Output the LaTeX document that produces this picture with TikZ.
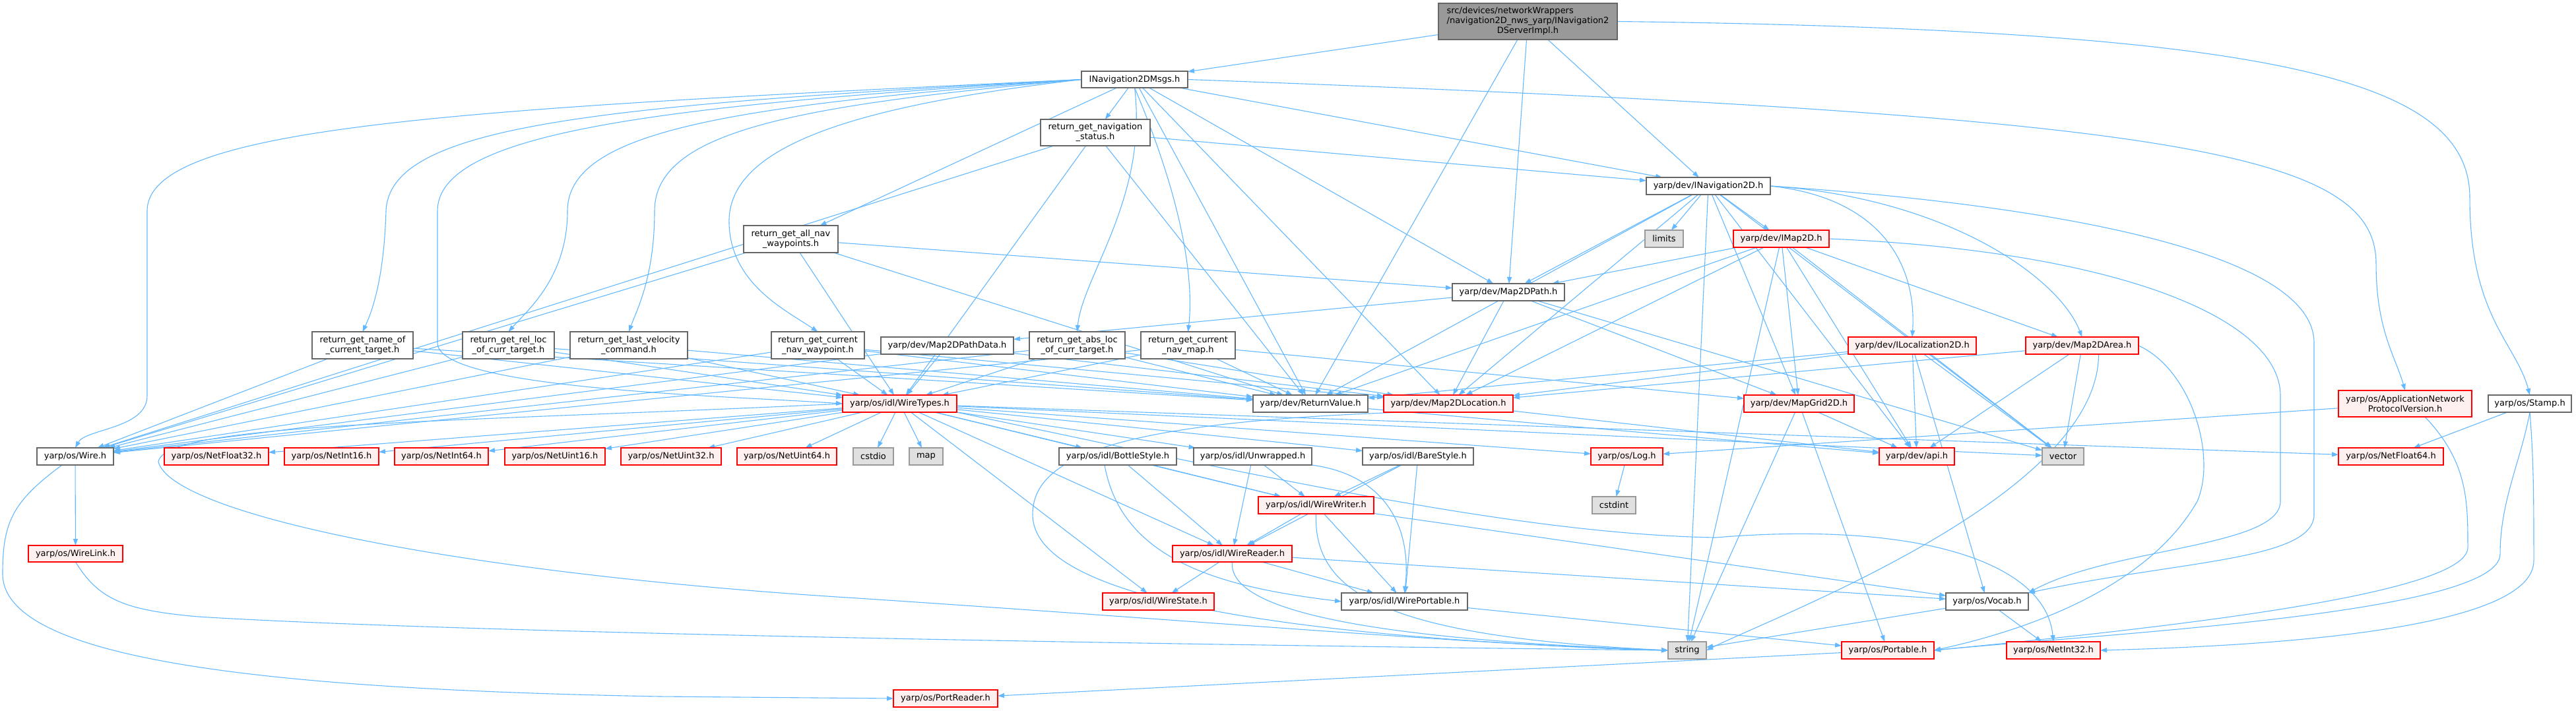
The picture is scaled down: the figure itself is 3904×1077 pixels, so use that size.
\documentclass[tikz,border=0pt]{standalone}
\usepackage{fontspec}
\setmainfont{DejaVu Sans}
\usetikzlibrary{arrows.meta}
\definecolor{edgec}{HTML}{63B8FF}
\definecolor{redfill}{HTML}{FFF0F0}
\definecolor{grayfill}{HTML}{E0E0E0}
\definecolor{topfill}{HTML}{999999}
\definecolor{dborder}{HTML}{666666}
\definecolor{lborder}{HTML}{999999}
\pgfdeclarelayer{bg}
\pgfsetlayers{bg,main}
\newcommand{\mkbox}[7]{\node[#1, minimum width={(#5-#3)*1pt}, minimum height={(#6-#4)*1pt}] (#2) at ({(#3+#5)/2},{(#4+#6)/2}) {#7};}
\tikzset{
  basebox/.style={draw, line width=1.2pt, inner sep=0pt, outer sep=0pt, font=\fontsize{13}{15}\selectfont, align=center},
  wn/.style={basebox, fill=white, draw=dborder},
  rn/.style={basebox, fill=redfill, draw=red},
  gn/.style={basebox, fill=grayfill, draw=lborder},
  tn/.style={basebox, fill=topfill, draw=dborder},
  ed/.style={draw=edgec, line width=1.1pt, -{Triangle[length=10pt,width=7pt]}}
}
\begin{document}
\begin{tikzpicture}[x=1pt,y=-1pt]
\useasboundingbox (0,0) rectangle (3904,1077);
% nodes
\mkbox{tn}{top}{2180}{5}{2451}{60}{\begin{tabular}{@{}l@{}}src/devices/networkWrappers\\/navigation2D\_nws\_yarp/INavigation2\\\multicolumn{1}{@{}c@{}}{DServerImpl.h}\end{tabular}}
\mkbox{wn}{msgs}{1639}{108}{1800}{133}{INavigation2DMsgs.h}
\mkbox{wn}{status}{1577}{181}{1743}{221}{return\_get\_navigation\\\_status.h}
\mkbox{wn}{nav}{2495}{269}{2683}{295}{yarp/dev/INavigation2D.h}
\mkbox{wn}{allwp}{1127}{342}{1270}{383}{return\_get\_all\_nav\\\_waypoints.h}
\mkbox{gn}{limits}{2493}{349}{2551}{375}{limits}
\mkbox{rn}{imap}{2627}{349}{2772}{375}{yarp/dev/IMap2D.h}
\mkbox{wn}{m2dpath}{2201}{430}{2371}{456}{yarp/dev/Map2DPath.h}
\mkbox{wn}{name}{473}{503}{626}{544}{return\_get\_name\_of\\\_current\_target.h}
\mkbox{wn}{rel}{701}{503}{840}{544}{return\_get\_rel\_loc\\\_of\_curr\_target.h}
\mkbox{wn}{lastvel}{864}{503}{1042}{544}{return\_get\_last\_velocity\\\_command.h}
\mkbox{wn}{curwp}{1169}{503}{1310}{544}{return\_get\_current\\\_nav\_waypoint.h}
\mkbox{wn}{pathdata}{1335}{511}{1536}{537}{yarp/dev/Map2DPathData.h}
\mkbox{wn}{absloc}{1560}{503}{1705}{544}{return\_get\_abs\_loc\\\_of\_curr\_target.h}
\mkbox{wn}{navmap}{1729}{503}{1872}{544}{return\_get\_current\\\_nav\_map.h}
\mkbox{rn}{iloc}{2801}{511}{2995}{537}{yarp/dev/ILocalization2D.h}
\mkbox{rn}{area}{3070}{511}{3241}{537}{yarp/dev/Map2DArea.h}
\mkbox{rn}{wiretypes}{1277}{599}{1450}{625}{yarp/os/idl/WireTypes.h}
\mkbox{wn}{rv}{1899}{599}{2073}{625}{yarp/dev/ReturnValue.h}
\mkbox{rn}{loc}{2097}{599}{2293}{625}{yarp/dev/Map2DLocation.h}
\mkbox{rn}{grid}{2643}{599}{2810}{625}{yarp/dev/MapGrid2D.h}
\mkbox{rn}{appnet}{3544}{592}{3746}{632}{yarp/os/ApplicationNetwork\\ProtocolVersion.h}
\mkbox{wn}{stamp}{3771}{599}{3897}{625}{yarp/os/Stamp.h}
\mkbox{wn}{wire}{56}{679}{172}{705}{yarp/os/Wire.h}
\mkbox{rn}{f32}{249}{679}{407}{705}{yarp/os/NetFloat32.h}
\mkbox{rn}{i16}{431}{679}{574}{705}{yarp/os/NetInt16.h}
\mkbox{rn}{i64}{598}{679}{740}{705}{yarp/os/NetInt64.h}
\mkbox{rn}{u16}{765}{679}{917}{705}{yarp/os/NetUint16.h}
\mkbox{rn}{u32}{941}{679}{1093}{705}{yarp/os/NetUint32.h}
\mkbox{rn}{u64}{1117}{679}{1268}{705}{yarp/os/NetUint64.h}
\mkbox{gn}{cstdio}{1293}{679}{1354}{705}{cstdio}
\mkbox{gn}{map}{1378}{679}{1429}{705}{map}
\mkbox{wn}{bottle}{1605}{679}{1783}{705}{yarp/os/idl/BottleStyle.h}
\mkbox{wn}{unwrapped}{1809}{679}{1988}{705}{yarp/os/idl/Unwrapped.h}
\mkbox{wn}{bare}{2065}{679}{2233}{705}{yarp/os/idl/BareStyle.h}
\mkbox{rn}{log}{2411}{679}{2520}{705}{yarp/os/Log.h}
\mkbox{rn}{api}{2848}{679}{2962}{705}{yarp/dev/api.h}
\mkbox{gn}{vector}{3095}{679}{3158}{705}{vector}
\mkbox{rn}{f64}{3544}{679}{3703}{705}{yarp/os/NetFloat64.h}
\mkbox{rn}{writer}{1907}{753}{2082}{779}{yarp/os/idl/WireWriter.h}
\mkbox{gn}{cstdint}{2413}{753}{2479}{779}{cstdint}
\mkbox{rn}{reader}{1777}{827}{1958}{852}{yarp/os/idl/WireReader.h}
\mkbox{rn}{wirelink}{43}{827}{186}{852}{yarp/os/WireLink.h}
\mkbox{rn}{state}{1671}{899}{1840}{925}{yarp/os/idl/WireState.h}
\mkbox{wn}{wportable}{2033}{899}{2224}{925}{yarp/os/idl/WirePortable.h}
\mkbox{wn}{vocab}{2949}{899}{3074}{925}{yarp/os/Vocab.h}
\mkbox{gn}{string}{2528}{973}{2586}{999}{string}
\mkbox{rn}{portable}{2791}{973}{2931}{999}{yarp/os/Portable.h}
\mkbox{rn}{i32}{3041}{973}{3183}{999}{yarp/os/NetInt32.h}
\mkbox{rn}{portreader}{1354}{1046}{1512}{1072}{yarp/os/PortReader.h}
% edges
\begin{pgfonlayer}{bg}
\foreach \src/\dst in {top/msgs, top/nav, top/m2dpath, top/rv,
  msgs/status, msgs/nav, msgs/m2dpath, msgs/rv, msgs/loc, msgs/allwp,
  status/nav, status/wire, status/wiretypes, status/rv,
  allwp/m2dpath, allwp/wire, allwp/wiretypes, allwp/rv,
  name/wire, name/wiretypes, name/rv,
  rel/wire, rel/wiretypes, rel/rv,
  lastvel/wire, lastvel/wiretypes, lastvel/rv,
  curwp/wire, curwp/wiretypes, curwp/rv, curwp/loc,
  absloc/wire, absloc/wiretypes, absloc/rv, absloc/loc,
  navmap/wire, navmap/wiretypes, navmap/rv, navmap/grid,
  pathdata/wire, pathdata/wiretypes, pathdata/loc,
  m2dpath/pathdata, m2dpath/loc, m2dpath/grid, m2dpath/vector,
  nav/limits, nav/imap, nav/m2dpath, nav/rv, nav/loc, nav/string, nav/grid, nav/api, nav/vector,
  imap/m2dpath, imap/rv, imap/loc, imap/grid, imap/area, imap/api, imap/vector, imap/string,
  iloc/loc, iloc/rv, iloc/api, iloc/vector, iloc/vocab,
  area/loc, area/api, area/vector,
  grid/api, grid/string, grid/portable,
  loc/api, rv/api,
  wiretypes/f32, wiretypes/i16, wiretypes/i64, wiretypes/u16, wiretypes/u32, wiretypes/u64,
  wiretypes/cstdio, wiretypes/map, wiretypes/bottle, wiretypes/unwrapped, wiretypes/bare,
  wiretypes/log, wiretypes/reader, wiretypes/writer, wiretypes/state, wiretypes/vector, wiretypes/f64,
  wire/wirelink,
  bottle/writer, bottle/reader, unwrapped/writer, unwrapped/reader, bare/writer, bare/reader, bare/wportable,
  writer/reader, writer/wportable, writer/vocab,
  reader/state, reader/wportable, reader/vocab,
  wportable/portable, log/cstdint, vocab/string, vocab/i32, appnet/log, stamp/f64, portable/portreader}
  \draw[ed] (\src) -- (\dst);
% curved edges
\draw[ed] (nav.east) .. controls (2850,300) and (2905,400) .. (iloc.north);
\draw[ed] (nav.east) .. controls (2950,300) and (3120,420) .. (area.north);
\draw[ed] (top.east) .. controls (3450,45) and (3743,120) .. (3743,300) .. controls (3743,480) and (3813,520) .. (stamp.north);
\draw[ed] (msgs.east) .. controls (3300,175) and (3601,230) .. (3601,400) .. controls (3601,500) and (3630,540) .. (appnet.north);
\draw[ed] (msgs.west) .. controls (700,165) and (223,190) .. (223,320) -- (223,600) .. controls (223,650) and (130,650) .. (wire.north);
\draw[ed] (msgs.west) .. controls (900,160) and (590,190) .. (585,320) .. controls (582,420) and (565,470) .. (name.north);
\draw[ed] (msgs.west) .. controls (1000,160) and (663,200) .. (663,320) -- (663,520) .. controls (663,590) and (1100,600) .. (wiretypes.west);
\draw[ed] (msgs.west) .. controls (1100,160) and (860,200) .. (860,320) .. controls (860,420) and (800,470) .. (rel.north);
\draw[ed] (msgs.west) .. controls (1200,160) and (992,200) .. (992,320) .. controls (992,420) and (965,470) .. (lastvel.north);
\draw[ed] (msgs.west) .. controls (1300,160) and (1100,220) .. (1105,340) .. controls (1108,430) and (1190,470) .. (curwp.north);
\draw[ed] (msgs.south) .. controls (1740,300) and (1640,420) .. (absloc.north);
\draw[ed] (msgs.south) .. controls (1790,300) and (1810,420) .. (navmap.north);
\draw[ed] (wiretypes.west) .. controls (700,640) and (250,640) .. (240,700) .. controls (260,780) and (700,870) .. (1300,907) .. controls (1800,940) and (2300,982) .. (string.west);
\draw[ed] ([xshift=-20pt]wire.south) .. controls (20,760) and (4,790) .. (4,870) .. controls (4,1000) and (400,1045) .. (1000,1056) -- (portreader.west);
\draw[ed] (wirelink.south) .. controls (150,910) and (190,925) .. (300,935) .. controls (700,960) and (1800,978) .. (string.west);
\draw[ed] ([xshift=-70pt]loc.south) .. controls (1700,640) and (1565,690) .. (1565,780) .. controls (1565,900) and (1900,965) .. (string.west);
\draw[ed] (writer.south) .. controls (1990,900) and (2100,965) .. (string.west);
\draw[ed] (reader.south) .. controls (1860,930) and (2100,970) .. (string.west);
\draw[ed] ([xshift=-20pt]bottle.south) .. controls (1700,850) and (1850,890) .. (wportable.west);
\draw[ed] (unwrapped.south east) .. controls (2100,720) and (2140,800) .. (wportable.north);
\draw[ed] (area.east) .. controls (3320,560) and (3360,690) .. (3330,760) .. controls (3250,900) and (3050,960) .. (portable.east);
\draw[ed] ([xshift=25pt]area.south) .. controls (3180,750) and (2700,930) .. (string.east);
\draw[ed] (nav.east) .. controls (3100,310) and (3507,380) .. (3507,520) -- (3507,780) .. controls (3507,850) and (3300,850) .. (vocab.north east);
\draw[ed] (imap.east) .. controls (3200,380) and (3456,480) .. (3456,600) -- (3456,760) .. controls (3456,830) and (3200,830) .. (vocab.north east);
\draw[ed] (wiretypes.south east) .. controls (1900,720) and (2300,810) .. (2600,815) .. controls (2900,790) and (3100,850) .. (i32.north);
\draw[ed] (stamp.south) .. controls (3820,700) and (3789,760) .. (3789,840) .. controls (3789,930) and (3200,960) .. (portable.east);
\draw[ed] (stamp.south) .. controls (3840,700) and (3840,760) .. (3840,850) .. controls (3840,960) and (3400,980) .. (i32.east);
\draw[ed] ([xshift=30pt]appnet.south) .. controls (3740,700) and (3740,760) .. (3740,830) .. controls (3740,900) and (3300,950) .. (portable.east);
\end{pgfonlayer}
\end{tikzpicture}
\end{document}
